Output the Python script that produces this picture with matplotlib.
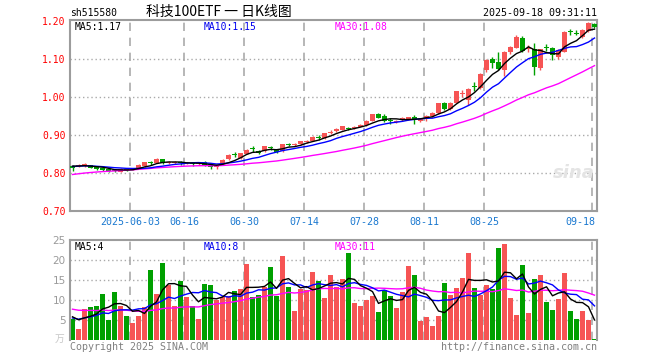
import numpy as np
import pandas as pd
import matplotlib
matplotlib.use('Agg')
import matplotlib.pyplot as plt

plt.rcParams['font.family'] = ['DejaVu Sans Mono', 'Noto Sans CJK SC']

# daily candles, 2025-05-19 .. 2025-09-18 (88 trading days)
opens = [0.819, 0.819, 0.818, 0.820, 0.817, 0.813, 0.810, 0.807, 0.803, 0.810,
         0.809, 0.812, 0.818, 0.828, 0.827, 0.836, 0.826, 0.827, 0.828, 0.825,
         0.826, 0.823, 0.829, 0.818, 0.815, 0.824, 0.836, 0.849, 0.840, 0.851,
         0.866, 0.859, 0.857, 0.867, 0.862, 0.858, 0.876, 0.874, 0.876, 0.882,
         0.885, 0.896, 0.892, 0.906, 0.910, 0.914, 0.918, 0.918, 0.922, 0.925,
         0.938, 0.955, 0.949, 0.940, 0.935, 0.939, 0.941, 0.946, 0.938, 0.941,
         0.951, 0.958, 0.983, 0.969, 0.985, 1.008, 0.992, 1.029, 1.024, 1.070,
         1.099, 1.093, 1.071, 1.117, 1.130, 1.154, 1.127, 1.125, 1.076, 1.132,
         1.128, 1.106, 1.119, 1.173, 1.168, 1.158, 1.174, 1.191]
highs = [0.820, 0.823, 0.826, 0.822, 0.819, 0.815, 0.812, 0.809, 0.813, 0.812,
         0.814, 0.823, 0.830, 0.832, 0.839, 0.838, 0.832, 0.831, 0.831, 0.829,
         0.830, 0.828, 0.831, 0.821, 0.820, 0.837, 0.849, 0.855, 0.853, 0.863,
         0.872, 0.861, 0.871, 0.871, 0.864, 0.877, 0.880, 0.880, 0.884, 0.886,
         0.897, 0.900, 0.906, 0.914, 0.918, 0.924, 0.922, 0.923, 0.928, 0.939,
         0.956, 0.957, 0.955, 0.945, 0.940, 0.946, 0.948, 0.952, 0.945, 0.953,
         0.960, 0.985, 0.987, 0.987, 1.017, 1.018, 1.024, 1.040, 1.062, 1.100,
         1.104, 1.117, 1.121, 1.134, 1.162, 1.160, 1.138, 1.141, 1.127, 1.140,
         1.131, 1.126, 1.173, 1.180, 1.175, 1.178, 1.196, 1.195]
lows = [0.805, 0.816, 0.816, 0.812, 0.809, 0.806, 0.803, 0.803, 0.802, 0.806,
        0.807, 0.810, 0.817, 0.822, 0.825, 0.824, 0.823, 0.824, 0.822, 0.823,
        0.819, 0.821, 0.818, 0.810, 0.810, 0.822, 0.834, 0.843, 0.838, 0.849,
        0.855, 0.850, 0.855, 0.860, 0.853, 0.856, 0.871, 0.872, 0.874, 0.880,
        0.883, 0.888, 0.890, 0.903, 0.908, 0.912, 0.912, 0.916, 0.920, 0.924,
        0.936, 0.944, 0.933, 0.930, 0.932, 0.937, 0.940, 0.930, 0.933, 0.936,
        0.948, 0.956, 0.966, 0.965, 0.983, 1.000, 0.980, 1.015, 1.020, 1.065,
        1.076, 1.070, 1.054, 1.113, 1.128, 1.117, 1.117, 1.058, 1.072, 1.120,
        1.097, 1.100, 1.117, 1.164, 1.163, 1.156, 1.172, 1.181]
closes = [0.814, 0.820, 0.824, 0.814, 0.811, 0.808, 0.805, 0.806, 0.811, 0.809,
          0.811, 0.821, 0.828, 0.826, 0.837, 0.826, 0.828, 0.828, 0.825, 0.827,
          0.823, 0.826, 0.820, 0.816, 0.817, 0.835, 0.847, 0.848, 0.852, 0.861,
          0.863, 0.852, 0.870, 0.865, 0.856, 0.875, 0.874, 0.876, 0.883, 0.884,
          0.896, 0.893, 0.905, 0.908, 0.917, 0.923, 0.916, 0.921, 0.927, 0.938,
          0.955, 0.945, 0.938, 0.937, 0.937, 0.945, 0.947, 0.941, 0.943, 0.951,
          0.958, 0.983, 0.969, 0.984, 1.015, 1.010, 1.022, 1.027, 1.061, 1.098,
          1.089, 1.073, 1.119, 1.132, 1.158, 1.122, 1.129, 1.078, 1.125, 1.130,
          1.110, 1.123, 1.171, 1.171, 1.166, 1.176, 1.195, 1.184]
# volume in 万
volumes = [5.2, 2.8, 7.75, 8.25, 8.5, 11.5, 5.0, 12.0, 8.6, 6.0,
           4.3, 6.0, 8.3, 17.5, 11.5, 19.25, 13.75, 8.5, 14.75, 10.75,
           8.5, 5.25, 14.0, 13.75, 10.0, 10.75, 11.0, 12.25, 12.75, 19.0,
           10.75, 11.25, 13.25, 18.25, 11.0, 21.0, 13.25, 7.25, 12.75, 12.5,
           17.0, 14.75, 10.5, 16.25, 13.25, 15.25, 21.75, 9.25, 8.5, 10.0,
           11.0, 7.0, 12.5, 11.0, 8.0, 12.0, 18.5, 16.25, 4.75, 5.75,
           3.5, 6.0, 14.25, 11.25, 13.0, 15.5, 21.75, 13.0, 11.25, 13.75,
           12.75, 23.0, 24.0, 10.5, 6.25, 18.75, 6.75, 15.25, 16.25, 9.5,
           7.5, 10.25, 16.75, 7.25, 5.25, 7.25, 5.0, 0.3]

# earlier days (not drawn), estimated from where the MA lines start
prior_close = [0.762, 0.768, 0.770, 0.772, 0.775, 0.778, 0.779, 0.781, 0.783, 0.782,
               0.785, 0.788, 0.790, 0.793, 0.795, 0.797, 0.799, 0.801, 0.804, 0.808,
               0.812, 0.815, 0.817, 0.818, 0.818, 0.818, 0.820, 0.819, 0.819]
prior_vol = [10.5, 9.0, 8.2, 9.6, 7.8, 8.4, 9.1, 7.5, 8.3, 8.3,
             9.8, 8.7, 10.2, 8.1, 9.5, 8.8, 9.4, 7.9, 8.6, 8.3,
             5.8, 4.6, 5.5, 4.9, 5.2, 6.5, 5.4, 6.2, 5.7]

date_idx = [10, 19, 29, 39, 49, 59, 69, 87]
date_lbl = ['2025-06-03', '06-16', '06-30', '07-14', '07-28', '08-11', '08-25', '09-18']
price_ticks = [0.70, 0.80, 0.90, 1.00, 1.10, 1.20]
vol_ticks = [5, 10, 15, 20, 25]

RED = '#f65454'
GREEN = '#00a000'
GRID = '#aaaaaa'
W, H = 660, 360

def fx(x):
    return x / W

def fy(y):
    return 1 - y / H

fig = plt.figure(figsize=(6.6, 3.6), dpi=100)
fig.patch.set_facecolor('white')
ax = fig.add_axes([fx(70), fy(211), (597 - 70) / W, (211 - 20) / H])
axv = fig.add_axes([fx(70), fy(340), (597 - 70) / W, (340 - 240) / H])

n = len(closes)
x = np.arange(n)
o = np.array(opens)
c = np.array(closes)
col = np.where(c >= o, RED, GREEN)
gx = [k - 0.4167 for k in date_idx]  # grid sits at the left edge of the day

# price panel
for lv in price_ticks[1:-1]:
    ax.axhline(lv, color=GRID, lw=1, ls=(0, (1, 2)), zorder=0)
for g in gx:
    ax.axvline(g, color=GRID, lw=1.2, ls=(0, (5, 4)), zorder=0)
ax.vlines(x, lows, highs, colors=col, lw=1, zorder=2)
ax.bar(x, np.maximum(np.abs(c - o), 0.0022), bottom=np.minimum(o, c), width=0.8,
       color=col, edgecolor='none', zorder=3)
allc = pd.Series(prior_close + closes)
for w, lc in [(30, '#ff00ff'), (10, '#0000ff'), (5, 'black')]:
    ax.plot(x, allc.rolling(w).mean().values[-n:], color=lc, lw=1, zorder=4)
ax.set_xlim(-0.4167, n - 0.5833)
ax.set_ylim(0.70, 1.2025)
ax.set_xticks([])
ax.set_yticks(price_ticks)
ax.set_yticklabels(['%.2f' % v for v in price_ticks])
ax.tick_params(axis='y', length=0, pad=3, labelsize=7, labelcolor='red')
for g, lab, k in zip(gx, date_lbl, date_idx):
    ha = 'right' if k == n - 1 else 'center'
    ax.text(g + (0.5 if k == n - 1 else 0), -0.058, lab, transform=ax.get_xaxis_transform(),
            ha=ha, va='center', fontsize=7.2, color='#1a78d0')
ax.text(0.955, 0.2, 'sina', transform=ax.transAxes, ha='center', va='center', fontsize=13,
        fontweight='bold', style='italic', color='#e4e4e4', family='DejaVu Sans', zorder=1)

# volume panel
for lv in vol_ticks[:-1]:
    axv.axhline(lv, color=GRID, lw=1, ls=(0, (1, 2)), zorder=0)
for g in gx:
    axv.axvline(g, color=GRID, lw=1.2, ls=(0, (5, 4)), zorder=0)
axv.bar(x, volumes, width=0.8, color=col, edgecolor='none', zorder=2)
allv = pd.Series(prior_vol + volumes)
for w, lc in [(30, '#ff00ff'), (10, '#0000ff'), (5, 'black')]:
    axv.plot(x, allv.rolling(w).mean().values[-n:], color=lc, lw=1, zorder=4)
axv.set_xlim(-0.4167, n - 0.5833)
axv.set_ylim(0, 25)
axv.set_xticks([])
axv.set_yticks(vol_ticks)
axv.set_yticklabels([str(v) for v in vol_ticks])
axv.tick_params(axis='y', length=0, pad=3, labelsize=7.5, labelcolor='#9a9a9a')
for t in axv.get_yticklabels():
    t.set_family('DejaVu Sans')
axv.spines['bottom'].set_visible(False)

for a in (ax, axv):
    for s in a.spines.values():
        s.set_color('#9c9c9c')
        s.set_linewidth(1.5)

# header / labels
fig.text(fx(70), fy(13.5), 'sh515580', ha='left', va='center', fontsize=7)
fig.text(fx(219), fy(12), '科技100ETF 一 日K线图', ha='center', va='center', fontsize=10,
         family=['Noto Sans CJK SC', 'DejaVu Sans'])
fig.text(fx(597), fy(12.5), '2025-09-18 09:31:11', ha='right', va='center', fontsize=7.2)
fig.text(fx(75), fy(27), 'MA5:1.17', ha='left', va='center', fontsize=7, color='black')
fig.text(fx(204), fy(27), 'MA10:1.15', ha='left', va='center', fontsize=7, color='#0000ee')
fig.text(fx(335), fy(27), 'MA30:1.08', ha='left', va='center', fontsize=7, color='#ff00ff')
fig.text(fx(75), fy(246.5), 'MA5:4', ha='left', va='center', fontsize=7, color='black')
fig.text(fx(204), fy(246.5), 'MA10:8', ha='left', va='center', fontsize=7, color='#0000ee')
fig.text(fx(335), fy(246.5), 'MA30:11', ha='left', va='center', fontsize=7, color='#ff00ff')
fig.text(fx(64), fy(339), '万', ha='right', va='center', fontsize=7, color='#c8c8c8',
         family=['Noto Sans CJK SC'])
fig.text(fx(70), fy(347), 'Copyright 2025 SINA.COM', ha='left', va='center', fontsize=7.2,
         color='#808080')
fig.text(fx(597), fy(347), 'http://finance.sina.com.cn', ha='right', va='center',
         fontsize=7.2, color='#808080')

fig.savefig('out.png', dpi=100, facecolor='white')
